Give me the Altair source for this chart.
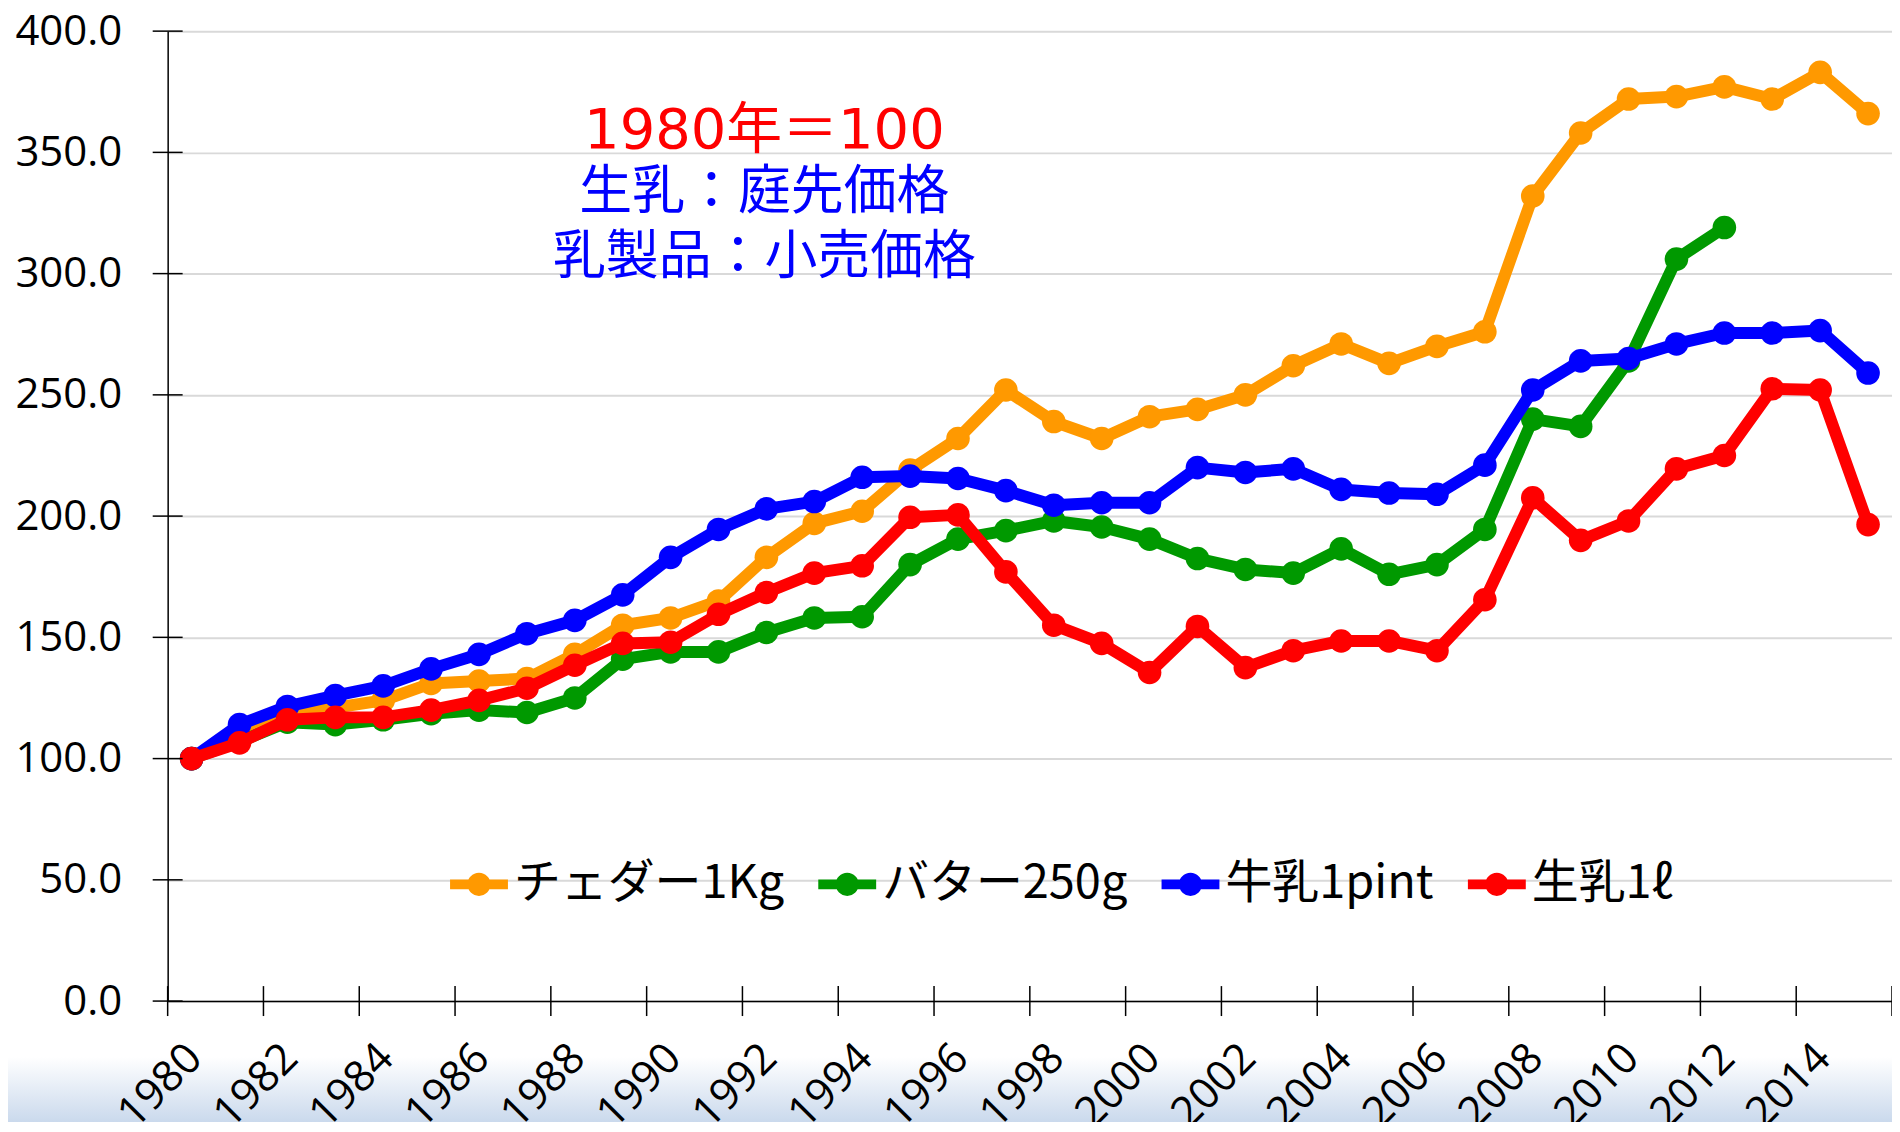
import altair as alt
import pandas as pd

# ---------------- data ----------------
years = list(range(1980, 2016))
series_names = ["チェダー1Kg", "バター250g", "牛乳1pint", "生乳1ℓ"]
series_colors = ["#FF9900", "#009900", "#0000FF", "#FF0000"]

cheddar = [100, 109, 118, 121, 124, 131, 132, 133, 143, 155,
           158, 165, 183, 197, 202, 219, 232, 252, 239, 232,
           241, 244, 250, 262, 271, 263, 270, 276, 332, 358,
           372, 373, 377, 372, 383, 366]
butter = [100, 107, 115, 114, 116, 118.5, 120, 119, 125, 141,
          144, 144, 152, 158, 158.5, 180, 190.5, 194, 198, 195.5,
          190.5, 182.5, 178, 176.5, 186.5, 176, 180, 194.5, 240, 237,
          264, 306, 319]
milk_pint = [100, 114, 121.5, 126, 130, 137, 143, 151.5, 157, 167.5,
             183, 194.5, 203, 206, 216, 216.5, 215.5, 210.5, 204.5, 205.5,
             205.5, 220, 218, 219.5, 211, 209.5, 209, 221, 252, 264,
             265, 271, 275.5, 275.5, 276.5, 259]
raw_milk = [100, 106.5, 116, 117, 117, 120, 124, 129, 138.5, 147.5,
            148, 159.5, 168.5, 176.5, 179.5, 199.5, 200.5, 177, 155, 147.5,
            135.5, 154.5, 137.5, 144.5, 148.5, 148.5, 144.5, 165.5, 207.5, 190,
            198, 219.5, 225, 252.5, 252, 196.5]

y_tick_values = [0, 50, 100, 150, 200, 250, 300, 350, 400]
x_label_years = list(range(1980, 2016, 2))
x_tick_bounds = [1979.5 + 2 * k for k in range(19)]

note_lines = ["1980年＝100", "生乳：庭先価格", "乳製品：小売価格"]

# ---------------- tables ----------------
rows = []
for name, vals in zip(series_names, [cheddar, butter, milk_pint, raw_milk]):
    for yr, v in zip(years, vals):
        rows.append({"year": yr, "value": v, "series": name})
df = pd.DataFrame(rows)
ytick_df = pd.DataFrame({"v": y_tick_values})
xtick_df = pd.DataFrame({"b": x_tick_bounds})
dummy = pd.DataFrame({"a": [0]})

W, H = 1728, 972

xscale = alt.Scale(domain=[1979.5, 2015.5], nice=False, zero=False)
yscale = alt.Scale(domain=[0, 400], nice=False, zero=True)
cscale = alt.Scale(domain=series_names, range=series_colors)

x_axis = alt.Axis(values=x_label_years, format="d", labelAngle=315, labelAlign="right",
                  labelBaseline="middle", labelOffset=3, labelPadding=50,
                  ticks=False, tickSize=0, grid=False, domainColor="black", domainWidth=1.5,
                  labelFont="Open Sans", labelFontSize=43, labelColor="black",
                  labelOverlap=False, labelFlush=False, labelBound=False, title=None, zindex=1)
y_axis = alt.Axis(values=y_tick_values, format=".1f", grid=True, gridColor="#D9D9D9",
                  gridWidth=2, ticks=False, tickSize=0, domainColor="black", domainWidth=1.5,
                  labelFont="Open Sans", labelFontSize=42, labelColor="black",
                  labelPadding=46, title=None)

legend_symbol = ("M-1,-0.17 H1 V0.17 H-1 Z "
                 "M0.4,0 A0.4,0.4 0 1,1 -0.4,0 A0.4,0.4 0 1,1 0.4,0 Z")
legend = alt.Legend(title=None, orient="none", legendX=283, legendY=826,
                    direction="horizontal", symbolType=legend_symbol, symbolSize=3364,
                    symbolStrokeWidth=0, symbolOpacity=1, labelFont="Noto Sans CJK JP",
                    labelFontSize=47, labelColor="black", labelOffset=6,
                    columnPadding=34, labelLimit=0, padding=0)

# background gradient at bottom
bg = alt.Chart(dummy).mark_rect(
    color=alt.Gradient(gradient="linear",
                       stops=[alt.GradientStop(color="#FFFFFF", offset=0),
                              alt.GradientStop(color="#C3D4EA", offset=1)],
                       x1=0, x2=0, y1=0, y2=1)
).encode(x=alt.value(-160), x2=alt.value(W), y=alt.value(1028), y2=alt.value(1102))

base = alt.Chart(df)
layers = [bg]
for name, col in zip(series_names, series_colors):
    sub = base.transform_filter(alt.datum.series == name)
    line = sub.mark_line(strokeWidth=12, strokeJoin="round", strokeCap="round",
                         color=col).encode(
        x=alt.X("year:Q", scale=xscale, axis=x_axis),
        y=alt.Y("value:Q", scale=yscale, axis=y_axis),
    )
    pts = sub.mark_point(filled=True, shape="circle", size=560, opacity=1).encode(
        x=alt.X("year:Q", scale=xscale, axis=x_axis),
        y=alt.Y("value:Q", scale=yscale, axis=y_axis),
        color=alt.Color("series:N", scale=cscale, legend=legend),
    )
    layers += [line, pts]

ytick_rules = alt.Chart(ytick_df).mark_rule(color="black", strokeWidth=1.5).encode(
    y=alt.Y("v:Q", scale=yscale, axis=y_axis), x=alt.value(-15), x2=alt.value(15))
xtick_rules = alt.Chart(xtick_df).mark_rule(color="black", strokeWidth=1.5).encode(
    x=alt.X("b:Q", scale=xscale, axis=x_axis), y=alt.value(H - 15), y2=alt.value(H + 15))

note1 = alt.Chart(dummy).mark_text(text=note_lines[0], font="DejaVu Sans, Noto Sans CJK JP",
                                   fontSize=56, color="#FF0000", align="center",
                                   baseline="alphabetic").encode(
    x=alt.value(598), y=alt.value(117))
note2 = alt.Chart(dummy).mark_text(text=note_lines[1], font="Noto Sans CJK JP",
                                   fontSize=53, color="#0000FF", align="center",
                                   baseline="middle").encode(
    x=alt.value(598), y=alt.value(162))
note3 = alt.Chart(dummy).mark_text(text=note_lines[2], font="Noto Sans CJK JP",
                                   fontSize=53, color="#0000FF", align="center",
                                   baseline="middle").encode(
    x=alt.value(598), y=alt.value(227))

layers += [ytick_rules, xtick_rules, note1, note2, note3]

chart = alt.layer(*layers).properties(
    width=W, height=H,
    autosize=alt.AutoSizeParams(type="none"),
    padding={"left": 160, "top": 22, "right": 0, "bottom": 120},
).configure_view(stroke=None)

chart.save("out.html", embed_options={"renderer": "svg", "actions": False})
